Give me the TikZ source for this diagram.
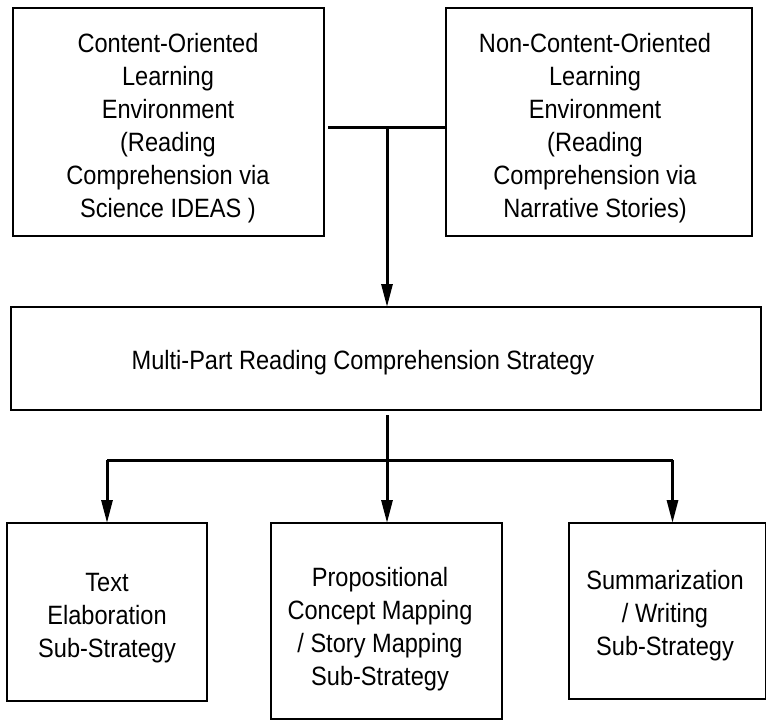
\documentclass[tikz,border=0pt]{standalone}
\usepackage{fontspec}
\setmainfont{Liberation Sans}
\newfontfamily\lblfont[FakeStretch=0.89]{Liberation Sans}
\usetikzlibrary{arrows.meta,calc}
\begin{document}
\begin{tikzpicture}[x=1pt,y=-1pt,
  box/.style={draw, line width=2pt, inner sep=0pt, outer sep=0pt, anchor=north west},
  lbl/.style={align=center, inner sep=0pt, font=\lblfont\fontsize{26.5}{33}\selectfont},
  link/.style={line width=3pt},
  tip/.style={link, -{Triangle[length=23pt,width=11pt]}}
]
\useasboundingbox (0,0) rectangle (766,720);

% frames
\node[box, minimum width=311.5pt, minimum height=228.5pt] (tl) at (12.5,7.5) {};
\node[box, minimum width=306pt,   minimum height=228pt]   (tr) at (446,8) {};
\node[box, minimum width=750.5pt, minimum height=103pt]   (mid) at (10.5,307) {};
\node[box, minimum width=200pt,   minimum height=178pt]   (bl) at (7,523) {};
\node[box, minimum width=231pt,   minimum height=196pt]   (bm) at (271,523) {};
\node[box, minimum width=197pt,   minimum height=176pt]   (br) at (569,523) {};

% labels
\node[lbl] (tlt) at (168,128) {Content-Oriented\\Learning\\Environment\\(Reading\\Comprehension via\\Science IDEAS )};
\node[lbl] (trt) at (595,128) {Non-Content-Oriented\\Learning\\Environment\\(Reading\\Comprehension via\\Narrative Stories)};
\node[lbl] (midt) at (363,363) {Multi-Part Reading Comprehension Strategy};
\node[lbl] (blt) at (107,618) {Text\\Elaboration\\Sub-Strategy};
\node[lbl] (bmt) at (380,629) {Propositional\\Concept Mapping\\/ Story Mapping\\Sub-Strategy};
\node[lbl] (brt) at (665,616) {Summarization\\/ Writing\\Sub-Strategy};

% junctions
\coordinate (j1) at (387,127);
\coordinate (j2) at (387,460);

% top merge
\draw[link] ([xshift=4pt]tl.east |- j1) -- (tr.west |- j1);
\draw[tip] (j1) -- (j1 |- mid.north);

% bottom split
\draw[link] ($(mid.south -| j2)+(0,5)$) -- (j2);
\draw[link] (bl.north |- j2) -- ([xshift=5pt]br.north |- j2);
\draw[tip] (bl.north |- j2) -- (bl.north);
\draw[tip] (j2) -- (j2 |- bm.north);
\draw[tip] ([xshift=5pt]br.north |- j2) -- ([xshift=5pt]br.north);
\end{tikzpicture}
\end{document}
